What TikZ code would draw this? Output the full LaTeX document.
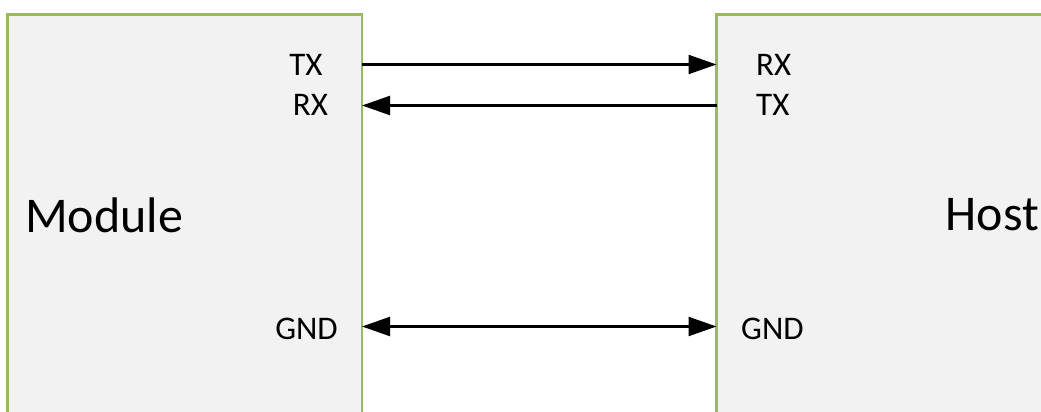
\documentclass[tikz,border=0pt]{standalone}
\usepackage{fontspec}
\setmainfont{Carlito}
\usetikzlibrary{arrows.meta}
\definecolor{boxgreen}{HTML}{9BBB59}
\definecolor{boxgray}{HTML}{F2F2F2}
\begin{document}
\begin{tikzpicture}[>={Triangle[length=28pt,width=19pt]}, x=1pt, y=-1pt,
    unit/.style={draw=boxgreen, fill=boxgray, line width=2.6pt, outer sep=0pt, anchor=north west, minimum height=450pt},
    pin/.style={font=\fontsize{33}{33}\selectfont, inner sep=0pt},
    big/.style={font=\fontsize{50}{50}\selectfont, inner sep=0pt}]
\useasboundingbox (0,0) rectangle (1041,412);
\clip (0,0) rectangle (1041,412);
% the two boards
\node[unit, minimum width=354.5pt] (module) at (7.5,14.5){};
\node[unit, minimum width=400pt] (host) at (716.5,14.5){};
\node[big, anchor=west] (modname) at (25,215){Module};
\node[big, anchor=east] (hostname) at (1039,215){Host};
% pin names
\node[pin] (mtxlabel) at (306,65){TX};
\node[pin] (mrxlabel) at (310.5,105){RX};
\node[pin] (mgndlabel) at (306.5,329){GND};
\node[pin, anchor=west] (hrxlabel) at (756,65){RX};
\node[pin, anchor=west] (htxlabel) at (756,105){TX};
\node[pin, anchor=west] (hgndlabel) at (741,329){GND};
% pin ends on the board edges
\coordinate (mtx) at (362,64.5);
\coordinate (mrx) at (362,105.5);
\coordinate (mgnd) at (362,326.5);
\coordinate (hrx) at (716.5,64.5);
\coordinate (htx) at (716.5,105.5);
\coordinate (hgnd) at (716.5,326.5);
\draw[->, line width=2.2pt] (mtx)--(hrx);
\draw[->, line width=2.2pt] (htx)--(mrx);
\draw[<->, line width=2.2pt] (mgnd)--(hgnd);
\end{tikzpicture}
\end{document}
